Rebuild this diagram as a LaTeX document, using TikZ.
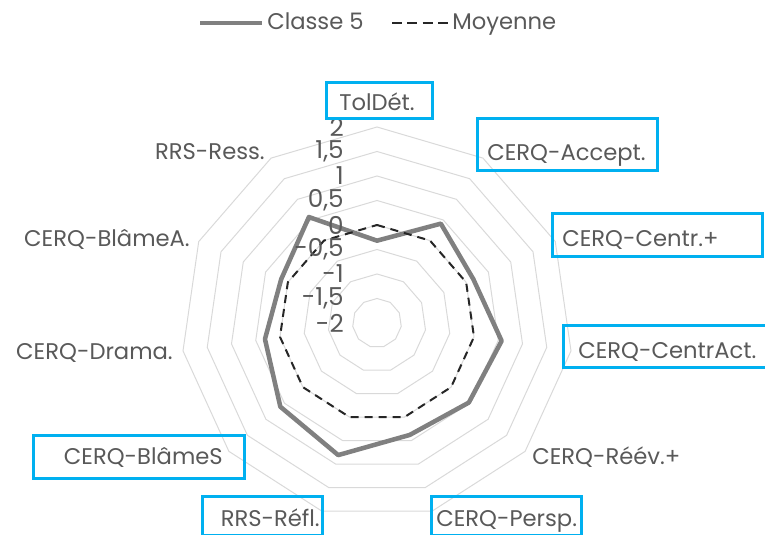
\documentclass[tikz,border=0pt]{standalone}
\usepackage{fontspec}
\setmainfont{Poppins}
\definecolor{txtgray}{HTML}{595959}
\definecolor{gridgray}{HTML}{D9D9D9}
\definecolor{seriegray}{HTML}{808080}
\definecolor{cadreblue}{HTML}{00B0F0}
\tikzset{
	lbl/.style={text=txtgray,font=\fontsize{17}{20}\selectfont,inner sep=0pt},
	ticklbl/.style={lbl,font=\fontsize{18.5}{20}\selectfont},
	cadre/.style={draw=cadreblue,line width=2.25pt},
	ring/.style={draw=gridgray,line width=0.75pt},
	classe/.style={draw=seriegray,line width=3.4pt,line join=round},
	moyenne/.style={draw=black!85,line width=1.5pt,dash pattern=on 6pt off 4.5pt},
}
\begin{document}
\begin{tikzpicture}[x=0.75pt,y=0.75pt]
	\useasboundingbox (0,0) rectangle (765,535);
	\begin{scope}[shift={(377,212)}]
		\foreach \r in {1,...,8}
			\draw[ring] (90:24.5*\r) \foreach \k in {1,...,10}{ -- ({90-360*\k/11}:24.5*\r)} -- cycle;
		\foreach \v [count=\k from 0] in {-0.32,0.41,0.16,0.57,0.48,0.38,0.81,0.61,0.31,0.15,0.57}
			\coordinate (c\k) at ({90-360*\k/11}:{(\v+2)*49});
		\foreach \k in {0,...,10}
			\coordinate (m\k) at ({90-360*\k/11}:98);
		\draw[classe] (c0) \foreach \k in {1,...,10}{ -- (c\k)} -- cycle;
		\draw[moyenne] (m0) \foreach \k in {1,...,10}{ -- (m\k)} -- cycle;
		\foreach \v/\t in {-2/-2,-1.5/{-1,5},-1/-1,-0.5/{-0,5},0/0,0.5/{0,5},1/1,1.5/{1,5},2/2}
			\node[ticklbl,anchor=east] at (-33,{(\v+2)*49}) {\t};
	\end{scope}
	\draw[cadre] (326,416) rectangle (432,452);
	\draw[cadre] (477,364) rectangle (657,416);
	\draw[cadre] (552,278) rectangle (762,321);
	\draw[cadre] (563,167) rectangle (768,209);
	\draw[cadre] (33,56) rectangle (244,99);
	\draw[cadre] (202,-1) rectangle (322,38);
	\draw[cadre] (431,-1) rectangle (581,38);
	\node[lbl,anchor=base] (toldet) at (377,424) {TolDét.};
	\node[lbl,anchor=base west] (accept) at (487,374) {CERQ-Accept.};
	\node[lbl,anchor=base west] (centr) at (562,288) {CERQ-Centr.+};
	\node[lbl,anchor=base west] (centract) at (578,176) {CERQ-CentrAct.};
	\node[lbl,anchor=base west] (reev) at (532,70) {CERQ-Réév.+};
	\node[lbl,anchor=base west] (persp) at (436,8) {CERQ-Persp.};
	\node[lbl,anchor=base east] (refl) at (320,8) {RRS-Réfl.};
	\node[lbl,anchor=base east] (blames) at (223,70) {CERQ-BlâmeS};
	\node[lbl,anchor=base east] (drama) at (173,175) {CERQ-Drama.};
	\node[lbl,anchor=base east] (blamea) at (190,288) {CERQ-BlâmeA.};
	\node[lbl,anchor=base east] (ress) at (265,375) {RRS-Ress.};
	\coordinate (leg1a) at (200,512);
	\coordinate (leg1b) at (262,512);
	\coordinate (leg2a) at (392,512);
	\coordinate (leg2b) at (448,512);
	\draw[seriegray,line width=3pt] (leg1a) -- (leg1b);
	\node[lbl,anchor=base west] (leg1) at (267,505) {Classe 5};
	\draw[black!85,line width=1.5pt,dash pattern=on 7.5pt off 4pt] (leg2a) -- (leg2b);
	\node[lbl,anchor=base west] (leg2) at (452,505) {Moyenne};
\end{tikzpicture}
\end{document}
